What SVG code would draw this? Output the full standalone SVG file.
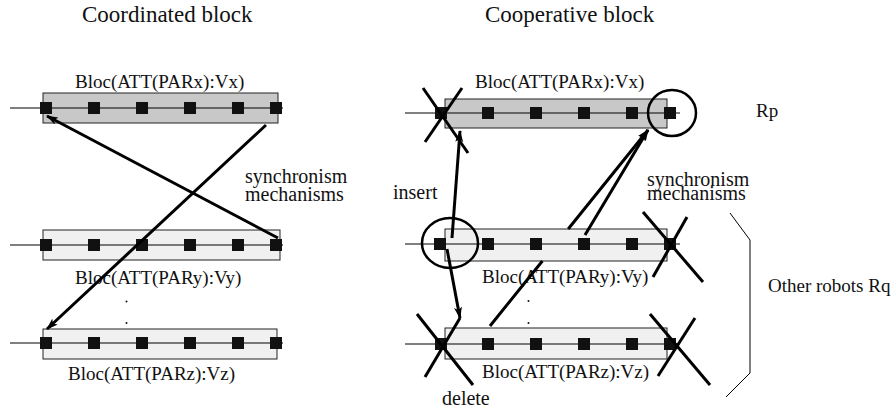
<svg xmlns="http://www.w3.org/2000/svg" width="896" height="413" viewBox="0 0 896 413">
  <style>
    text { font-family: "Liberation Serif", "Times New Roman", serif; fill: #111; }
    .title { font-size: 23px; }
    .lbl { font-size: 19px; }
    .note { font-size: 20px; }
    .bar-dark { fill: #c8c8c8; stroke: #222; stroke-width: 1; }
    .bar-light { fill: #f0f0f0; stroke: #222; stroke-width: 1; }
    .axis { stroke: #000; stroke-width: 1; fill: none; }
    .sq { fill: #111; }
    .arrow { stroke: #000; stroke-width: 3; fill: none; marker-end: url(#head); }
    .cross { stroke: #000; stroke-width: 3; fill: none; }
    .ring { stroke: #000; stroke-width: 2.5; fill: none; }
    .brace { stroke: #000; stroke-width: 1; fill: none; }
  </style>
  <defs>
    <marker id="head" viewBox="0 0 12 8" refX="11" refY="4" markerWidth="12" markerHeight="8" markerUnits="userSpaceOnUse" orient="auto">
      <path d="M0,0 L12,4 L0,8 L3,4 Z" fill="#000"/>
    </marker>
  </defs>

  <!-- column titles -->
  <text class="title" x="82" y="22">Coordinated block</text>
  <text class="title" x="485" y="22">Cooperative block</text>

  <!-- ===== coordinated block (left) ===== -->
  <g id="left-x">
    <rect class="bar-dark" x="43" y="93" width="235" height="30"/>
    <line class="axis" x1="10" y1="108" x2="283" y2="108"/>
    <g class="sq">
      <rect x="40" y="102" width="12" height="12"/><rect x="88" y="102" width="12" height="12"/>
      <rect x="136" y="102" width="12" height="12"/><rect x="184" y="102" width="12" height="12"/>
      <rect x="232" y="102" width="12" height="12"/><rect x="270" y="102" width="12" height="12"/>
    </g>
    <text class="lbl" x="75" y="88">Bloc(ATT(PARx):Vx)</text>
  </g>
  <g id="left-y">
    <rect class="bar-light" x="43" y="230" width="237" height="30"/>
    <line class="axis" x1="10" y1="245" x2="283" y2="245"/>
    <g class="sq">
      <rect x="40" y="239" width="12" height="12"/><rect x="88" y="239" width="12" height="12"/>
      <rect x="136" y="239" width="12" height="12"/><rect x="184" y="239" width="12" height="12"/>
      <rect x="232" y="239" width="12" height="12"/><rect x="270" y="239" width="12" height="12"/>
    </g>
    <text class="lbl" x="75" y="284">Bloc(ATT(PARy):Vy)</text>
  </g>
  <g id="left-z">
    <rect class="bar-light" x="43" y="329" width="234" height="30"/>
    <line class="axis" x1="10" y1="343" x2="283" y2="343"/>
    <g class="sq">
      <rect x="40" y="337" width="12" height="12"/><rect x="88" y="337" width="12" height="12"/>
      <rect x="136" y="337" width="12" height="12"/><rect x="184" y="337" width="12" height="12"/>
      <rect x="232" y="337" width="12" height="12"/><rect x="270" y="337" width="12" height="12"/>
    </g>
    <text class="lbl" x="68" y="380">Bloc(ATT(PARz):Vz)</text>
  </g>
  <g id="left-dots">
    <circle cx="126.5" cy="301.5" r="1" fill="#111"/>
    <circle cx="126.5" cy="323" r="1" fill="#111"/>
  </g>
  <g id="left-sync">
    <text class="note" x="245" y="183">synchronism<tspan x="245" y="201">mechanisms</tspan></text>
  </g>

  <!-- ===== cooperative block (right) ===== -->
  <g id="right-x">
    <rect class="bar-dark" x="445" y="99" width="222" height="29"/>
    <line class="axis" x1="405" y1="113" x2="680" y2="113"/>
    <g class="sq">
      <rect x="435" y="107" width="12" height="12"/><rect x="482" y="107" width="12" height="12"/>
      <rect x="530" y="107" width="12" height="12"/><rect x="578" y="107" width="12" height="12"/>
      <rect x="626" y="107" width="12" height="12"/><rect x="664" y="107" width="12" height="12"/>
    </g>
    <text class="lbl" x="475" y="88">Bloc(ATT(PARx):Vx)</text>
  </g>
  <g id="right-y">
    <rect class="bar-light" x="445" y="229" width="222" height="32"/>
    <line class="axis" x1="405" y1="244" x2="680" y2="244"/>
    <g class="sq">
      <rect x="434" y="238" width="12" height="12"/><rect x="482" y="238" width="12" height="12"/>
      <rect x="530" y="238" width="12" height="12"/><rect x="578" y="238" width="12" height="12"/>
      <rect x="626" y="238" width="12" height="12"/><rect x="664" y="238" width="12" height="12"/>
    </g>
    <text class="lbl" x="482" y="283">Bloc(ATT(PARy):Vy)</text>
  </g>
  <g id="right-z">
    <rect class="bar-light" x="445" y="328" width="222" height="31"/>
    <line class="axis" x1="405" y1="344" x2="680" y2="344"/>
    <g class="sq">
      <rect x="435" y="338" width="12" height="12"/><rect x="482" y="338" width="12" height="12"/>
      <rect x="530" y="338" width="12" height="12"/><rect x="578" y="338" width="12" height="12"/>
      <rect x="626" y="338" width="12" height="12"/><rect x="664" y="338" width="12" height="12"/>
    </g>
    <text class="lbl" x="482" y="378">Bloc(ATT(PARz):Vz)</text>
  </g>
  <g id="right-dots">
    <circle cx="528.5" cy="301" r="1" fill="#111"/>
    <circle cx="528.5" cy="323" r="1" fill="#111"/>
  </g>
  <g id="right-sync">
    <text class="note" x="647" y="186">synchronism<tspan x="647" y="200">mechanisms</tspan></text>
  </g>
  <g id="insert-label"><text class="note" x="393" y="199">insert</text></g>
  <g id="delete-label"><text class="note" x="442" y="405">delete</text></g>
  <g id="rp-label"><text class="lbl" x="756" y="117">Rp</text></g>
  <g id="rq-group">
    <path class="brace" d="M730,213 L750,240 L750,373 L726,397"/>
    <text class="lbl" x="768" y="292">Other robots Rq</text>
  </g>

  <!-- removed / selected fields -->
  <g id="marks">
    <line class="cross" x1="423" y1="88" x2="468" y2="153"/>
    <line class="cross" x1="462" y1="88" x2="425" y2="142"/>
    <line class="cross" x1="643" y1="212" x2="703" y2="282"/>
    <line class="cross" x1="687" y1="217" x2="653" y2="277"/>
    <line class="cross" x1="417" y1="314" x2="473" y2="385"/>
    <line class="cross" x1="460" y1="318" x2="425" y2="377"/>
    <line class="cross" x1="650" y1="314" x2="710" y2="385"/>
    <line class="cross" x1="695" y1="318" x2="658" y2="376"/>
    <ellipse class="ring" cx="672" cy="113" rx="24" ry="23"/>
    <ellipse class="ring" cx="450" cy="243" rx="28" ry="25"/>
  </g>

  <!-- connectors -->
  <g id="connectors">
    <path class="arrow" d="M278,238 L47,116"/>
    <path class="arrow" d="M266,125 L47,329"/>
    <path class="arrow" d="M452,238 L460,131"/>
    <path class="arrow" d="M447,249 L460,318"/>
    <path class="arrow" d="M585,235 L648,130"/>
    <path class="arrow" d="M490,326 L542.4,261 M568.2,229 L648,130"/>
  </g>
</svg>
